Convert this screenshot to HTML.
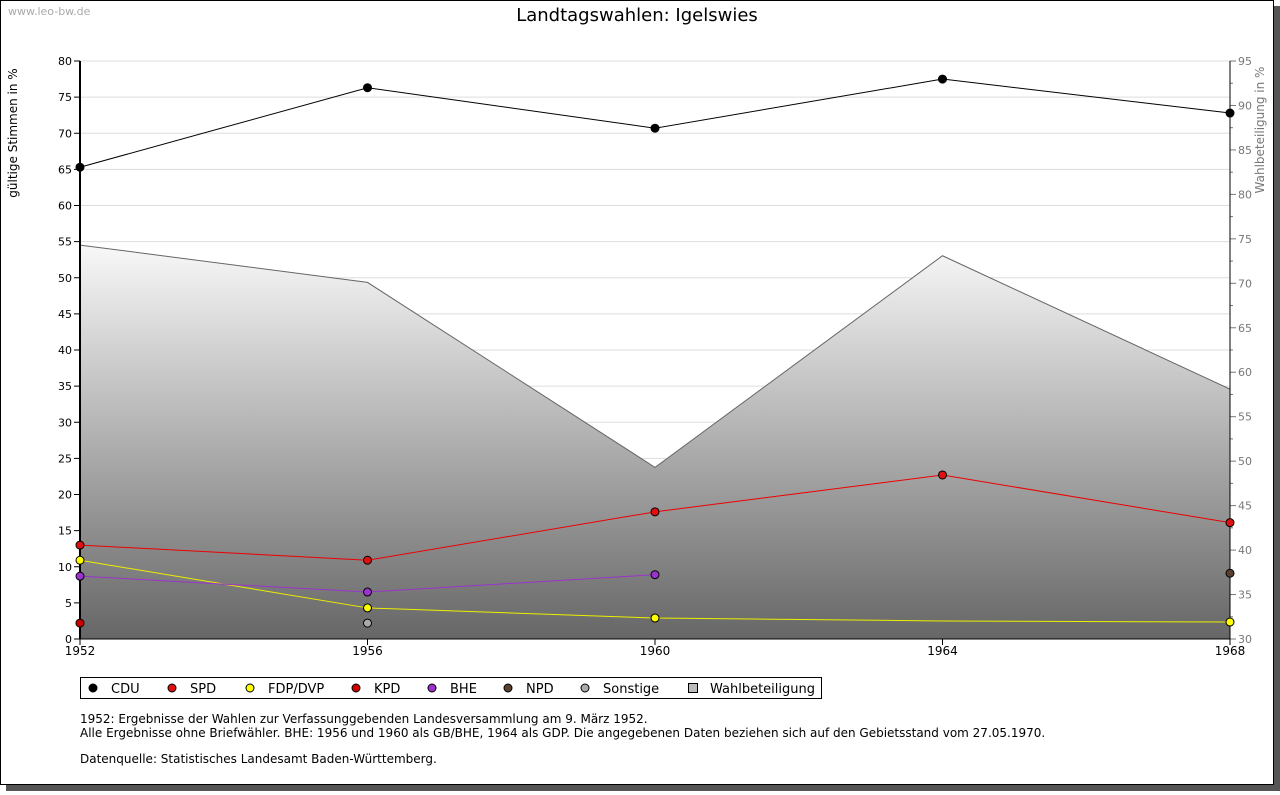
<!DOCTYPE html>
<html><head><meta charset="utf-8"><style>
body{margin:0;background:#fff;font-family:"DejaVu Sans","Liberation Sans",sans-serif;}
svg text{font-family:"DejaVu Sans","Liberation Sans",sans-serif;}
</style></head><body>
<svg id="c" width="1280" height="791" xmlns="http://www.w3.org/2000/svg">
<defs><linearGradient id="g" gradientUnits="userSpaceOnUse" x1="0" y1="240" x2="0" y2="639"><stop offset="0" stop-color="#fafafa"/><stop offset="1" stop-color="#666"/></linearGradient></defs>
<rect x="6" y="6" width="1274" height="785" fill="#555"/>
<rect x="0.5" y="0.5" width="1273" height="784" fill="#fff" stroke="#000"/>
<text x="8" y="15" font-size="11" fill="#aaa">www.leo-bw.de</text>
<text x="637" y="21" font-size="18" text-anchor="middle">Landtagswahlen: Igelswies</text>
<g id="grid"></g><g id="area"></g><g id="axes"></g><g id="lines"></g>
<text transform="translate(17,133) rotate(-90)" font-size="12" text-anchor="middle">gültige Stimmen in %</text>
<text transform="translate(1264,130) rotate(-90)" font-size="12" fill="#777" text-anchor="middle">Wahlbeteiligung in %</text>
<g id="legend"></g>
<text x="80" y="723" font-size="12">1952: Ergebnisse der Wahlen zur Verfassunggebenden Landesversammlung am 9. März 1952.</text>
<text x="80" y="737" font-size="12">Alle Ergebnisse ohne Briefwähler. BHE: 1956 und 1960 als GB/BHE, 1964 als GDP. Die angegebenen Daten beziehen sich auf den Gebietsstand vom 27.05.1970.</text>
<text x="80" y="763" font-size="12">Datenquelle: Statistisches Landesamt Baden-Württemberg.</text>
</svg>
<script>
const years=[1952,1956,1960,1964,1968];
const cdu=[65.3,76.3,70.7,77.5,72.8];
const spd=[13.0,10.9,17.6,22.7,16.1];
const fdp=[10.9,4.3,2.9,2.5,2.35];
const kpd=[2.2,null,null,null,null];
const bhe=[8.7,6.5,8.9,null,null];
const npd=[null,null,null,null,9.1];
const sonst=[null,2.2,null,null,null];
const turnout=[74.3,70.1,49.3,73.1,58.1];
const yTicks=[0,5,10,15,20,25,30,35,40,45,50,55,60,65,70,75,80];
const y2Ticks=[30,35,40,45,50,55,60,65,70,75,80,85,90,95];
const NS='http://www.w3.org/2000/svg';
const X=y=>80+(y-1952)/16*1150;
const Y=v=>639-v/80*578;
const Y2=v=>639-(v-30)/65*578;
function mk(t,a,p){const e=document.createElementNS(NS,t);for(const k in a)e.setAttribute(k,a[k]);document.getElementById(p).appendChild(e);return e;}
yTicks.forEach(v=>{if(v>0){const l=mk('line',{x1:80,x2:1230,y1:Y(v),y2:Y(v),stroke:'#ddd'},'grid');}
 const t=mk('line',{x1:74,x2:80,y1:Y(v),y2:Y(v),stroke:'#000'},'axes');
 const tx=mk('text',{x:72,y:Y(v)+4,'font-size':11,'text-anchor':'end'},'axes');tx.textContent=v;});
y2Ticks.forEach(v=>{const t=mk('line',{x1:1230,x2:1236,y1:Y2(v),y2:Y2(v),stroke:'#777'},'axes');
 if(v<95){const m=mk('line',{x1:1230,x2:1233,y1:Y2(v+2.5),y2:Y2(v+2.5),stroke:'#777'},'axes');}
 const tx=mk('text',{x:1238,y:Y2(v)+4,'font-size':11,fill:'#777'},'axes');tx.textContent=v;});
let ap='M'+X(years[0])+','+639+turnout.map((v,i)=>' L'+X(years[i])+','+Y2(v)).join('')+' L'+X(years[4])+',639Z';
const a=mk('path',{d:ap,fill:'url(#g)'},'area');
const al=mk('polyline',{points:turnout.map((v,i)=>X(years[i])+','+Y2(v)).join(' '),fill:'none',stroke:'#666'},'area');
const ax=mk('path',{d:'M80,61V639H1230V61',fill:'none',stroke:'#000','stroke-width':1},'axes');
const yl=mk('line',{x1:80,x2:80,y1:61,y2:639,stroke:'#000','stroke-width':2},'axes');
years.forEach(y=>{const t=mk('line',{x1:X(y),x2:X(y),y1:639,y2:645,stroke:'#000'},'axes');
 const tx=mk('text',{x:X(y),y:655,'font-size':12,'text-anchor':'middle'},'axes');tx.textContent=y;});
const series=[['cdu',cdu,'#000','#000'],['spd',spd,'#e00','#e01010'],['fdp',fdp,'#ee0','#ff0'],['kpd',kpd,'#b00','#c00'],['bhe',bhe,'#93c','#93c'],['npd',npd,'#543','#5a4030'],['sonstige',sonst,'#aaa','#aaa']];
series.forEach(([n,d,lc,fc])=>{let seg=[];const flush=()=>{if(seg.length>1){const p=mk('polyline',{points:seg.join(' '),fill:'none',stroke:lc},'lines');}seg=[];};
 d.forEach((v,i)=>{if(v==null){flush();return;}seg.push(X(years[i])+','+Y(v));});flush();
 d.forEach((v,i)=>{if(v==null||(n==='fdp'&&i===3))return;const c=mk('circle',{cx:X(years[i]),cy:Y(v),r:4,fill:fc,stroke:'#000'},'lines');});});
const lb=mk('rect',{x:80.5,y:677.5,width:741,height:21,fill:'#fff',stroke:'#000'},'legend');
const leg=[['CDU','#000',93],['SPD','#e01010',172],['FDP/DVP','#ff0',250],['KPD','#c00',356],['BHE','#93c',432],['NPD','#5a4030',508],['Sonstige','#aaa',585]];
leg.forEach(([t,c,x])=>{const m=mk('circle',{cx:x,cy:688,r:4,fill:c,stroke:'#000'},'legend');
 const tx=mk('text',{x:x+18,y:693,'font-size':13},'legend');tx.textContent=t;});
const wr=mk('rect',{x:688.5,y:683.5,width:9,height:9,fill:'#bbb',stroke:'#000'},'legend');
const wt=mk('text',{x:710,y:693,'font-size':13},'legend');wt.textContent='Wahlbeteiligung';
</script>
</body></html>
